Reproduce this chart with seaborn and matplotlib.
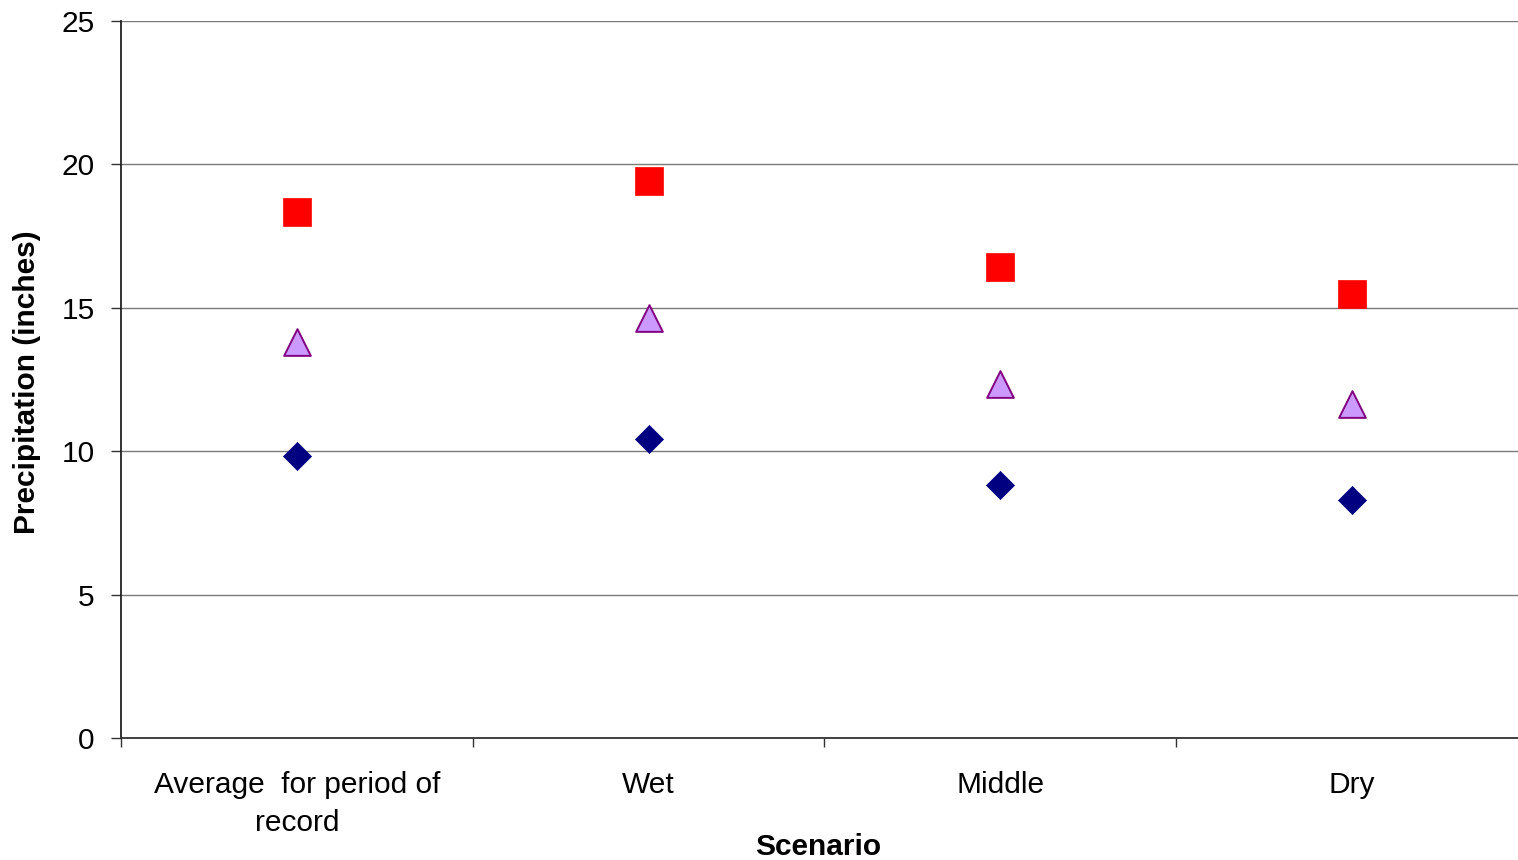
import matplotlib
matplotlib.use("Agg")
import matplotlib.pyplot as plt
import seaborn as sns
import pandas as pd

# ---- data ----
scenarios = ["Average  for period of\nrecord", "Wet", "Middle", "Dry"]
upper_vals = [18.35, 19.42, 16.42, 15.48]     # red squares
mid_vals = [13.82, 14.63, 12.35, 11.65]       # purple triangles
lower_vals = [9.82, 10.43, 8.82, 8.30]        # navy diamonds
y_ticks = [0, 5, 10, 15, 20, 25]
x_label = "Scenario"
y_label = "Precipitation (inches)"

sns.set_style("white")
plt.rcParams["font.family"] = ["Liberation Sans", "DejaVu Sans"]
plt.rcParams["text.color"] = "black"
plt.rcParams["axes.labelcolor"] = "black"
plt.rcParams["xtick.color"] = "black"
plt.rcParams["ytick.color"] = "black"

fig = plt.figure(figsize=(15.18, 8.60), dpi=100)
ax = fig.add_axes([121 / 1518, 122 / 860, 1406.7 / 1518, 717 / 860])

df_u = pd.DataFrame({"Scenario": scenarios, "Value": upper_vals})
df_m = pd.DataFrame({"Scenario": scenarios, "Value": mid_vals})
df_l = pd.DataFrame({"Scenario": scenarios, "Value": lower_vals})

sns.scatterplot(data=df_u, x="Scenario", y="Value", marker="s", s=380,
                color="#FF0000", edgecolor="#FF0000", linewidth=0.5, ax=ax, zorder=3)
sns.scatterplot(data=df_m, x="Scenario", y="Value", marker="^", s=370,
                color="#CC99FF", edgecolor="#800080", linewidth=1.4, ax=ax, zorder=3)
sns.scatterplot(data=df_l, x="Scenario", y="Value", marker="D", s=205,
                color="#000080", edgecolor="#000080", linewidth=0.5, ax=ax, zorder=3)

ax.set_xlim(-0.5, len(scenarios) - 0.5)
ax.set_ylim(0, 25)
ax.set_yticks(y_ticks)
ax.set_yticklabels([str(v) for v in y_ticks])

# category labels on major ticks (no tick marks), boundary ticks as minor
ax.set_xticks(range(len(scenarios)))
ax.set_xticklabels(scenarios, linespacing=1.45)
ax.set_xticks([i - 0.5 for i in range(len(scenarios) + 1)], minor=True)
ax.tick_params(axis="x", which="major", length=0, pad=23.5, labelsize=21.5,
               labelcolor="black")
ax.tick_params(axis="x", which="minor", length=6.5, width=1.0, direction="out",
               color="#333333", bottom=True)
ax.tick_params(axis="y", which="major", length=7, width=1.0, direction="out",
               pad=12, labelsize=21.5, color="#333333", labelcolor="black", left=True)

ax.grid(False)
ax.yaxis.grid(True, color="#7a7a7a", linewidth=1.0)
ax.set_axisbelow(True)

for side in ["top", "right"]:
    ax.spines[side].set_visible(False)
ax.spines["left"].set_color("#222222")
ax.spines["left"].set_linewidth(1.3)
ax.spines["bottom"].set_color("#333333")
ax.spines["bottom"].set_linewidth(1.3)

ax.set_xlabel(x_label, fontsize=21.5, fontweight="bold", color="black")
ax.set_ylabel(y_label, fontsize=21.5, fontweight="bold", color="black")
ax.xaxis.set_label_coords(0.4955, -0.132)
ax.yaxis.set_label_coords(-0.0569, 0.496)

fig.savefig("out.png", dpi=100)
